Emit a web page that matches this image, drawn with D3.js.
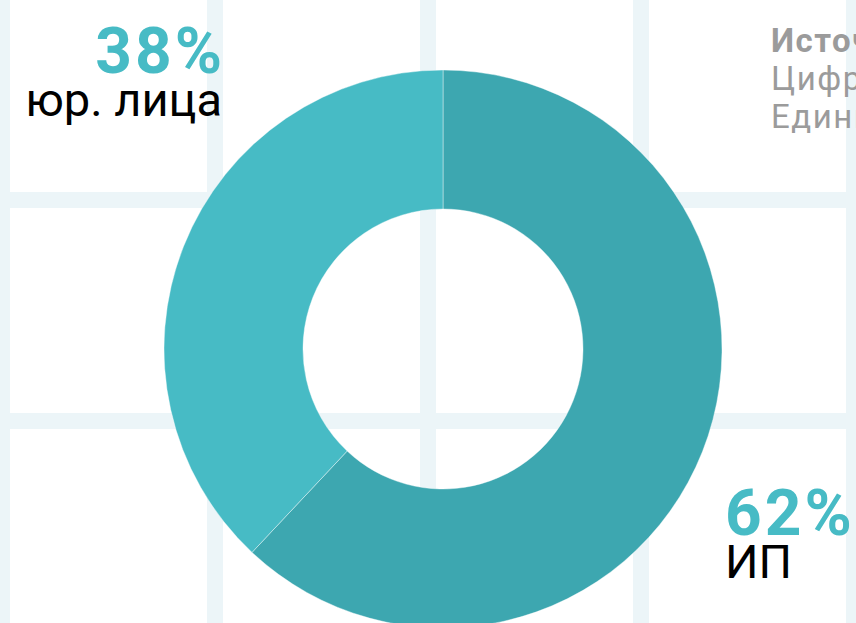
<!DOCTYPE html>
<html lang="ru">
<head>
<meta charset="UTF-8">
<title>ИП и юр. лица</title>
<script src="https://d3js.org/d3.v7.min.js"></script>
<style>
  body { margin: 0; background: #fff; overflow: hidden; }
  svg { display: block; font-family: Roboto, "Noto Sans", sans-serif; }
</style>
</head>
<body>
<div id="chart"></div>
<script>
// data
const categories = ['ИП', 'юр. лица'];
const shares = [62, 38];
const colors = ['#3da7b0', '#47bbc5'];
const sourceLines = ['Источник:', 'Цифровая платформа МСП', 'Единый реестр субъектов МСП'];

const width = 856, height = 623;
const cx = 443, cy = 349;
const outerR = 279, innerR = 140;

const svg = d3.select('#chart').append('svg')
    .attr('width', width)
    .attr('height', height);

// background grid
const grid = svg.append('g').attr('fill', '#ecf5f8');
grid.selectAll('rect.v')
    .data(d3.range(2, width + 20, 213))
    .enter().append('rect')
    .attr('class', 'v')
    .attr('x', d => d - 8).attr('y', 0)
    .attr('width', 16).attr('height', height);
grid.selectAll('rect.h')
    .data([200, 421])
    .enter().append('rect')
    .attr('class', 'h')
    .attr('x', 0).attr('y', d => d - 8)
    .attr('width', width).attr('height', 16);

// donut
const pie = d3.pie().sort(null).value(d => d.v);
const arc = d3.arc().innerRadius(innerR).outerRadius(outerR);
const slices = pie(categories.map((c, i) => ({ c, v: shares[i] })));

svg.append('g')
    .attr('transform', `translate(${cx},${cy})`)
    .selectAll('path')
    .data(slices)
    .enter().append('path')
    .attr('d', arc)
    .attr('fill', (d, i) => colors[i])
    .attr('stroke', '#ffffff')
    .attr('stroke-opacity', 0.5)
    .attr('stroke-width', 0.8);

// labels
const labels = [
    { x: 222, anchor: 'end', y: 73 },
    { x: 725, anchor: 'start', y: 535 }
];
const order = [1, 0];
order.forEach((idx, k) => {
    const pos = labels[k];
    svg.append('text')
        .attr('x', pos.x).attr('y', pos.y)
        .attr('dx', pos.anchor === 'end' ? 3 : 0)
        .attr('text-anchor', pos.anchor)
        .attr('font-size', 64)
        .attr('font-weight', 700)
        .attr('letter-spacing', 3)
        .attr('fill', '#47bbc5')
        .text(shares[idx] + '%');
    svg.append('text')
        .attr('x', pos.x).attr('y', pos.y + 43)
        .attr('text-anchor', pos.anchor)
        .attr('font-size', 47)
        .attr('fill', '#000')
        .text(categories[idx]);
});

// source note (cut by the right edge)
svg.append('g').selectAll('text')
    .data(sourceLines)
    .enter().append('text')
    .attr('x', 771)
    .attr('y', (d, i) => 52 + i * 38)
    .attr('font-size', 33)
    .attr('letter-spacing', 1.5)
    .attr('font-weight', (d, i) => i === 0 ? 700 : 400)
    .attr('fill', '#9b9b9b')
    .text(d => d);
</script>
</body>
</html>
